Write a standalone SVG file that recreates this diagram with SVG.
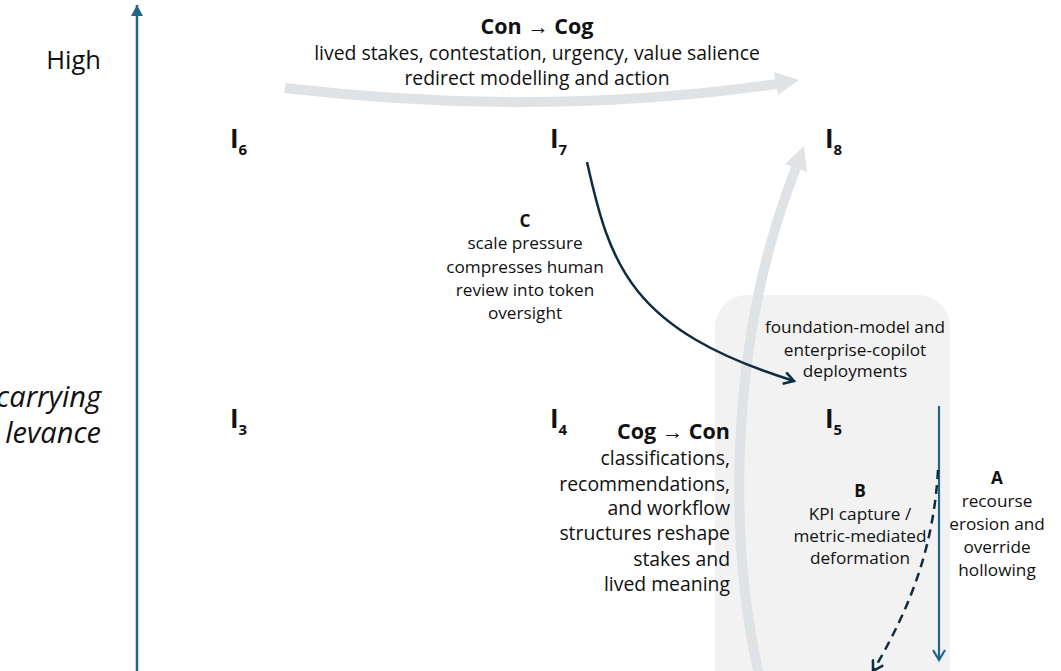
<svg xmlns="http://www.w3.org/2000/svg" width="1061" height="671" viewBox="0 0 1061 671">
<style>
text{font-family:"Open Sans","Liberation Sans",sans-serif;fill:#111;}
.t{font-size:19.4px;}
.s{font-size:17.2px;}
.b{font-weight:bold;}
.mid{text-anchor:middle;}
.end{text-anchor:end;}
.node{font-size:26px;font-weight:bold;}
.sub{font-size:15px;}
.gray{fill:none;stroke:#e0e3e5;stroke-width:10;}
.grayhead{fill:#e0e3e5;}
</style>
<defs>
<marker id="chevDark" viewBox="0 0 14 14" refX="12" refY="7" markerWidth="14" markerHeight="14" markerUnits="userSpaceOnUse" orient="auto">
<path d="M2,1 L12,7 L2,13" fill="none" stroke="#0e2d40" stroke-width="2.5"/>
</marker>
<marker id="chevBlue" viewBox="0 0 14 14" refX="12" refY="7" markerWidth="14" markerHeight="14" markerUnits="userSpaceOnUse" orient="auto">
<path d="M2,1 L12,7 L2,13" fill="none" stroke="#1f6587" stroke-width="2.2"/>
</marker>
<marker id="axisHead" viewBox="0 0 12 12" refX="11" refY="6" markerWidth="12" markerHeight="12" markerUnits="userSpaceOnUse" orient="auto">
<path d="M0,0 L11,6 L0,12 Z" fill="#1f6587"/>
</marker>
</defs>
<rect width="1061" height="671" fill="#ffffff"/>
<g id="panel">
<rect x="715" y="295" width="235" height="420" rx="32" ry="32" fill="#f2f2f2"/>
</g>
<g id="axis">
<line x1="137" y1="671" x2="137" y2="5" stroke="#1f6587" stroke-width="2.5" marker-end="url(#axisHead)"/>
<text x="101" y="69" class="end" style="font-size:25.5px">High</text>
<text x="101" y="407" class="end" style="font-size:29px;font-style:italic">carrying</text>
<text x="101" y="443" class="end" style="font-size:29px;font-style:italic">levance</text>
</g>
<g id="connectors">
<path class="gray" d="M285,88 Q540,118 777,84"/>
<polygon class="grayhead" points="799,80 774,72 778,95"/>
<path class="gray" d="M760,680 C728,540 728,340 796,168"/>
<polygon class="grayhead" points="804,146 785,164 807,172"/>
<path d="M587,162 C610,265 630,330 794,381" fill="none" stroke="#0e2d40" stroke-width="2.5" marker-end="url(#chevDark)"/>
<line x1="939" y1="406" x2="939" y2="660" stroke="#1f6587" stroke-width="2.2" marker-end="url(#chevBlue)"/>
<path d="M938,470 C934,540 915,600 873,671" fill="none" stroke="#0e2d40" stroke-width="2.5" stroke-dasharray="9,6" marker-end="url(#chevDark)"/>
</g>
<g id="I6"><text x="230" y="148" class="node">I<tspan class="sub" dy="7">6</tspan></text></g>
<g id="I7"><text x="550" y="148" class="node">I<tspan class="sub" dy="7">7</tspan></text></g>
<g id="I8"><text x="825" y="148" class="node">I<tspan class="sub" dy="7">8</tspan></text></g>
<g id="I3"><text x="230" y="428" class="node">I<tspan class="sub" dy="7">3</tspan></text></g>
<g id="I4"><text x="550" y="428" class="node">I<tspan class="sub" dy="7">4</tspan></text></g>
<g id="I5"><text x="825" y="428" class="node">I<tspan class="sub" dy="7">5</tspan></text></g>
<g id="label-concog">
<text x="537" y="34" class="mid b" style="font-size:21.5px">Con → Cog</text>
<text x="537" y="60" class="mid t">lived stakes, contestation, urgency, value salience</text>
<text x="537" y="85" class="mid t">redirect modelling and action</text>
</g>
<g id="label-C">
<text x="525" y="227" class="mid b s">C</text>
<text x="525" y="249" class="mid s">scale pressure</text>
<text x="525" y="273" class="mid s">compresses human</text>
<text x="525" y="296" class="mid s">review into token</text>
<text x="525" y="319" class="mid s">oversight</text>
</g>
<g id="label-deploy">
<text x="855" y="333" class="mid s">foundation-model and</text>
<text x="855" y="356" class="mid s">enterprise-copilot</text>
<text x="855" y="377" class="mid s">deployments</text>
</g>
<g id="label-cogcon">
<text x="730" y="439" class="end b" style="font-size:21.5px">Cog → Con</text>
<text x="730" y="465" class="end t">classifications,</text>
<text x="730" y="491" class="end t">recommendations,</text>
<text x="730" y="515" class="end t">and workflow</text>
<text x="730" y="540" class="end t">structures reshape</text>
<text x="730" y="566" class="end t">stakes and</text>
<text x="730" y="591" class="end t">lived meaning</text>
</g>
<g id="label-B">
<text x="860" y="497" class="mid b s">B</text>
<text x="860" y="520" class="mid s">KPI capture /</text>
<text x="860" y="542" class="mid s">metric-mediated</text>
<text x="860" y="564" class="mid s">deformation</text>
</g>
<g id="label-A">
<text x="997" y="484" class="mid b s">A</text>
<text x="997" y="507" class="mid s">recourse</text>
<text x="997" y="530" class="mid s">erosion and</text>
<text x="997" y="553" class="mid s">override</text>
<text x="997" y="576" class="mid s">hollowing</text>
</g>
</svg>
